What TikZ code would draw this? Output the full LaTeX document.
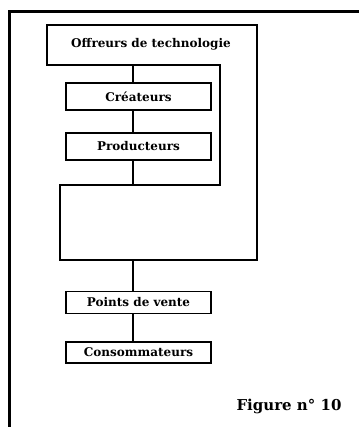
\documentclass[tikz,border=0pt]{standalone}
\usepackage{fontspec}
\setmainfont{DejaVu Serif}
\usetikzlibrary{calc}

\tikzset{
  etape/.style={draw, line width=1.4pt, minimum width=145pt, minimum height=27pt,
    inner sep=0pt, font=\fontsize{12}{14}\selectfont\bfseries},
  lien/.style={line width=1.4pt}
}

\begin{document}
\begin{tikzpicture}[x=1pt, y=-1pt]
  \useasboundingbox (0,0) rectangle (359,427);

  % Cadre
  \draw[line width=3pt] (9,427) -- (9,11.5) -- (359,11.5);

  % Contour des offreurs de technologie
  \draw[lien] (47,25) -- (257,25) -- (257,260) -- (60,260) -- (60,185)
    -- (220,185) -- (220,65) -- (47,65) -- cycle;
  \node[font=\fontsize{12}{14}\selectfont\bfseries] (offreurs) at (151,44) {Offreurs de technologie};
  \coordinate (offBas) at (133,65);
  \coordinate (zoneHaut) at (133,185);
  \coordinate (zoneBas) at (133,260);

  % Createurs et producteurs
  \node[etape] (crea) at (138.5,96.5) {Créateurs};
  \node[etape] (prod) at (138.5,146.5) {Producteurs};

  % Distribution
  \node[etape, minimum height=22pt] (vente) at (138.5,302.5) {Points de vente};
  \node[etape, minimum height=21pt] (conso) at (138.5,352.5) {Consommateurs};

  % Liaisons
  \draw[lien] (offBas) -- (offBas |- crea.north);
  \draw[lien] (offBas |- crea.south) -- (offBas |- prod.north);
  \draw[lien] (offBas |- prod.south) -- (zoneHaut);
  \draw[lien] (zoneBas) -- (zoneBas |- vente.north);
  \draw[lien] (zoneBas |- vente.south) -- (zoneBas |- conso.north);

  % Legende
  \node[font=\fontsize{15}{17}\selectfont\bfseries, anchor=east] (legende) at (345,406) {Figure n° 10};
\end{tikzpicture}
\end{document}
